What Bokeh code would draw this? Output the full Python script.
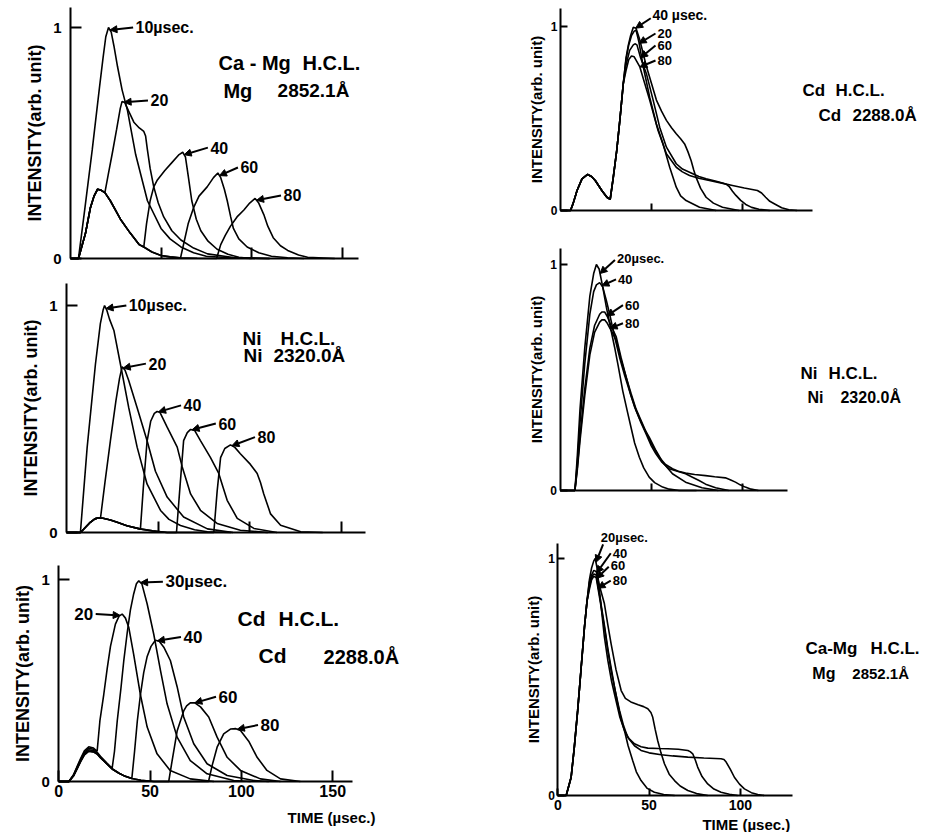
import numpy as np
from bokeh.plotting import figure
from bokeh.models import Range1d, FixedTicker, Label, Arrow, NormalHead, LinearAxis
from bokeh.embed import file_html
from bokeh.resources import INLINE

FONT = "Liberation Sans"

# ---------------- Panel L1 : Ca-Mg H.C.L., Mg 2852.1 A (left, top) ----------------
L1_10_T = [0, 4.4, 8, 12, 16, 18, 19.5, 21, 22.5, 24, 26, 28.5, 31.5, 36, 42.5, 50, 55, 61, 68, 75, 90, 110]
L1_10_I = [0, 0, 0.22, 0.47, 0.74, 0.87, 0.96, 1.0, 0.98, 0.92, 0.83, 0.73, 0.64, 0.45, 0.25, 0.13, 0.085, 0.05, 0.025, 0.01, 0.002, 0]
L1_20_T = [0, 4.4, 8.3, 11, 13, 15, 17, 19, 21, 23.2, 25.5, 27.5, 28.5, 30, 32, 35, 38, 40.5, 41.5, 42.5, 44, 46, 48.5, 51.5, 56, 61, 68, 75.7, 90, 110]
L1_20_I = [0, 0, 0.11, 0.22, 0.27, 0.30, 0.295, 0.285, 0.37, 0.46, 0.56, 0.65, 0.68, 0.675, 0.64, 0.59, 0.565, 0.55, 0.53, 0.47, 0.39, 0.31, 0.24, 0.18, 0.12, 0.08, 0.045, 0.02, 0.004, 0]
L1_40_T = [0, 4.4, 8.3, 11, 13, 15, 17, 19, 22, 27.6, 33, 38, 40.5, 42, 44, 46, 48, 52, 56, 60, 62, 63.5, 65, 67, 69.5, 72, 76, 81, 87, 93, 100]
L1_40_I = [0, 0, 0.11, 0.22, 0.27, 0.30, 0.295, 0.285, 0.25, 0.17, 0.11, 0.06, 0.05, 0.15, 0.25, 0.31, 0.34, 0.38, 0.415, 0.45, 0.46, 0.44, 0.36, 0.25, 0.17, 0.12, 0.075, 0.04, 0.018, 0.005, 0]
L1_60_T = [0, 4.4, 8.3, 11, 13, 15, 17, 19, 22, 27.6, 33, 38, 40.5, 45, 50, 55, 60.8, 63, 65, 68, 71, 75.5, 79, 81.4, 83, 85, 86.6, 88.5, 90, 93, 97.6, 104, 111, 120, 129]
L1_60_I = [0, 0, 0.11, 0.22, 0.27, 0.30, 0.295, 0.285, 0.25, 0.17, 0.11, 0.06, 0.05, 0.028, 0.013, 0.007, 0.003, 0.08, 0.15, 0.22, 0.27, 0.31, 0.35, 0.37, 0.35, 0.30, 0.25, 0.18, 0.13, 0.085, 0.05, 0.025, 0.01, 0.003, 0]
L1_80_T = [0, 4.4, 8.3, 11, 13, 15, 17, 19, 22, 27.6, 33, 38, 40.5, 45, 50, 55, 60, 70, 80.7, 83, 85.5, 88.4, 92, 95.8, 99, 102, 104, 106.8, 109, 112, 116, 120, 126, 131, 146]
L1_80_I = [0, 0, 0.11, 0.22, 0.27, 0.30, 0.295, 0.285, 0.25, 0.17, 0.11, 0.06, 0.05, 0.028, 0.013, 0.007, 0.003, 0.001, 0, 0.06, 0.10, 0.14, 0.18, 0.21, 0.24, 0.26, 0.24, 0.19, 0.14, 0.09, 0.055, 0.035, 0.015, 0.005, 0]

# ---------------- Panel L2 : Ni H.C.L., Ni 2320.0 A (left, middle) ----------------
L2_10_T = [0, 7.6, 11.3, 15.8, 18.5, 20, 20.8, 22, 23.5, 25.9, 29.5, 34, 38.6, 44, 51.4, 56, 62.3, 70, 77, 90]
L2_10_I = [0, 0, 0.376, 0.74, 0.92, 0.98, 1.0, 0.98, 0.94, 0.89, 0.74, 0.55, 0.376, 0.214, 0.097, 0.058, 0.031, 0.012, 0.003, 0]
L2_20_T = [0, 7.6, 10, 13, 15.5, 17.7, 18.6, 21, 24, 27, 29, 30.4, 32, 34, 38.6, 44, 48.6, 55, 64, 77, 91]
L2_20_I = [0, 0, 0.02, 0.045, 0.06, 0.065, 0.065, 0.22, 0.405, 0.58, 0.68, 0.73, 0.715, 0.67, 0.55, 0.405, 0.27, 0.156, 0.068, 0.016, 0]
L2_40_T = [0, 7.6, 10, 13, 15.5, 17.7, 20, 24, 27.7, 33, 40, 40.4, 42, 44, 46, 48, 49.5, 51, 55, 60.5, 63.2, 65.5, 67.8, 73.2, 82.3, 95, 110]
L2_40_I = [0, 0, 0.02, 0.045, 0.06, 0.065, 0.063, 0.055, 0.045, 0.03, 0.016, 0.016, 0.2, 0.4, 0.49, 0.525, 0.533, 0.53, 0.464, 0.376, 0.29, 0.23, 0.17, 0.098, 0.04, 0.01, 0]
L2_60_T = [0, 7.6, 10, 13, 15.5, 17.7, 20, 24, 27.7, 33, 40, 47, 55, 60.1, 62, 64, 66, 67.8, 70, 73.2, 78.7, 83.2, 85.5, 87.8, 93.3, 102.4, 115]
L2_60_I = [0, 0, 0.02, 0.045, 0.06, 0.065, 0.063, 0.055, 0.045, 0.03, 0.016, 0.007, 0, 0, 0.2, 0.405, 0.44, 0.454, 0.45, 0.405, 0.33, 0.26, 0.2, 0.142, 0.062, 0.018, 0]
L2_80_T = [0, 7.6, 10, 13, 15.5, 17.7, 20, 24, 27.7, 33, 40, 47, 55, 80.5, 82.3, 84.2, 86.5, 89.6, 92, 95, 100.5, 104.2, 106, 107.8, 111.5, 117, 128, 140]
L2_80_I = [0, 0, 0.02, 0.045, 0.06, 0.065, 0.063, 0.055, 0.045, 0.03, 0.016, 0.007, 0, 0, 0.18, 0.33, 0.37, 0.386, 0.375, 0.347, 0.30, 0.26, 0.22, 0.17, 0.082, 0.032, 0.003, 0]

# ---------------- Panel L3 : Cd H.C.L., Cd 2288.0 A (left, bottom) ----------------
L3_20_T = [0, 5.5, 8, 10, 12, 14, 16.4, 19, 21, 22.5, 24.6, 26.5, 28.3, 31, 33, 34.7, 36.5, 38.3, 41, 44.7, 48.4, 53.8, 61, 72, 85]
L3_20_I = [0, 0, 0.032, 0.074, 0.115, 0.152, 0.172, 0.166, 0.15, 0.3, 0.43, 0.56, 0.67, 0.78, 0.82, 0.83, 0.81, 0.765, 0.63, 0.43, 0.27, 0.137, 0.055, 0.013, 0]
L3_30_T = [0, 5.5, 8, 10, 12, 14, 16.4, 19, 21, 22.8, 26.5, 29.2, 30.5, 32, 34, 35.6, 37.5, 39.2, 41, 42.5, 43.8, 45.5, 48.4, 52, 55.7, 59.3, 64.8, 72, 81.2, 95.8, 105]
L3_30_I = [0, 0, 0.03, 0.07, 0.11, 0.145, 0.165, 0.16, 0.145, 0.125, 0.09, 0.065, 0.15, 0.30, 0.46, 0.60, 0.74, 0.85, 0.93, 0.98, 0.995, 0.98, 0.88, 0.73, 0.55, 0.385, 0.22, 0.104, 0.038, 0.005, 0]
L3_40_T = [0, 5.5, 8, 10, 12, 14, 16.4, 19, 21, 22.8, 26.5, 29.2, 33, 35.6, 40, 41.5, 43, 44.7, 46.5, 48.4, 50.5, 52.9, 55, 57.5, 61.1, 64.8, 68.4, 73.9, 81.2, 92.2, 106.8, 115]
L3_40_I = [0, 0, 0.028, 0.066, 0.104, 0.138, 0.157, 0.153, 0.14, 0.12, 0.087, 0.063, 0.041, 0.029, 0.015, 0.15, 0.3, 0.43, 0.54, 0.62, 0.67, 0.70, 0.695, 0.666, 0.6, 0.47, 0.32, 0.187, 0.088, 0.03, 0.005, 0]
L3_60_T = [0, 5.5, 8, 10, 12, 14, 16.4, 19, 21, 22.8, 26.5, 29.2, 33, 35.6, 40, 45, 52, 60.2, 62, 64.8, 68.4, 70, 72, 74.5, 77.6, 82.1, 86.7, 92.2, 99.5, 110.4, 121.4]
L3_60_I = [0, 0, 0.027, 0.063, 0.1, 0.132, 0.15, 0.147, 0.136, 0.118, 0.086, 0.062, 0.041, 0.029, 0.015, 0.006, 0, 0, 0.1, 0.25, 0.35, 0.375, 0.39, 0.39, 0.37, 0.32, 0.22, 0.12, 0.055, 0.013, 0]
L3_80_T = [0, 5.5, 8, 10, 12, 14, 16.4, 19, 21, 22.8, 26.5, 29.2, 33, 35.6, 40, 45, 52, 82, 84, 86.7, 90.3, 94, 97, 99.5, 104, 108.6, 114, 121.4, 132.3]
L3_80_I = [0, 0, 0.027, 0.063, 0.1, 0.132, 0.15, 0.147, 0.136, 0.118, 0.086, 0.062, 0.041, 0.029, 0.015, 0.006, 0, 0, 0.08, 0.17, 0.236, 0.26, 0.262, 0.253, 0.2, 0.12, 0.055, 0.013, 0]

# ---------------- Panel R1 : Cd H.C.L., Cd 2288.0 A (right, top) ----------------
R1_20_T = [0, 5.5, 7, 9.1, 11.8, 14.9, 17, 19.1, 22.7, 25.5, 27.3, 29, 30.9, 32.7, 34.5, 36, 37.5, 39, 40.5, 41.5, 43, 45.5, 49, 52.7, 56.4, 60, 63.6, 66, 69, 76.4, 85.5]
R1_20_I = [0, 0, 0.04, 0.109, 0.172, 0.196, 0.185, 0.163, 0.109, 0.072, 0.06, 0.18, 0.326, 0.5, 0.69, 0.82, 0.9, 0.95, 0.975, 0.98, 0.92, 0.78, 0.616, 0.47, 0.36, 0.235, 0.127, 0.08, 0.054, 0.018, 0]
R1_40_T = [0, 5.5, 7, 9.1, 11.8, 14.9, 17, 19.1, 22.7, 25.5, 27.3, 29, 30.9, 32.7, 34.5, 36, 37.3, 38.5, 40, 41.5, 43.5, 45.5, 47.3, 50, 52.7, 55.5, 58.2, 61, 63.6, 66, 68.2, 70, 71.8, 73.2, 74.5, 77, 80, 84, 89, 98]
R1_40_I = [0, 0, 0.04, 0.109, 0.172, 0.196, 0.185, 0.163, 0.109, 0.072, 0.06, 0.18, 0.326, 0.5, 0.69, 0.83, 0.9, 0.95, 0.996, 0.99, 0.93, 0.85, 0.78, 0.69, 0.6, 0.54, 0.49, 0.45, 0.417, 0.39, 0.362, 0.32, 0.27, 0.22, 0.18, 0.12, 0.072, 0.04, 0.018, 0]
R1_60_T = [0, 5.5, 7, 9.1, 11.8, 14.9, 17, 19.1, 22.7, 25.5, 27.3, 29, 30.9, 32.7, 34.5, 36, 38, 40, 40.9, 42, 44, 47.3, 50.9, 54.5, 58.2, 63.6, 67, 70.9, 76, 80, 85, 89, 91, 92.7, 94.5, 96.4, 99, 101.8, 105, 109, 115]
R1_60_I = [0, 0, 0.04, 0.109, 0.172, 0.196, 0.185, 0.163, 0.109, 0.072, 0.06, 0.18, 0.326, 0.5, 0.69, 0.79, 0.87, 0.9, 0.906, 0.9, 0.83, 0.74, 0.6, 0.453, 0.344, 0.254, 0.225, 0.208, 0.185, 0.172, 0.16, 0.149, 0.143, 0.13, 0.105, 0.082, 0.055, 0.033, 0.017, 0.007, 0]
R1_80_T = [0, 5.5, 7, 9.1, 11.8, 14.9, 17, 19.1, 22.7, 25.5, 27.3, 29, 30.9, 32.7, 34.5, 36, 37.5, 39, 40.5, 43.6, 46, 49, 53.6, 58.2, 63.6, 67, 70.9, 76, 81.8, 88, 94.5, 101, 108.2, 110.5, 112.7, 115, 118.2, 121.5, 125.5, 130]
R1_80_I = [0, 0, 0.04, 0.109, 0.172, 0.196, 0.185, 0.163, 0.109, 0.072, 0.06, 0.18, 0.326, 0.5, 0.69, 0.76, 0.82, 0.84, 0.835, 0.78, 0.7, 0.6, 0.435, 0.308, 0.235, 0.21, 0.19, 0.175, 0.163, 0.15, 0.136, 0.122, 0.109, 0.095, 0.072, 0.05, 0.033, 0.015, 0.004, 0]

# ---------------- Panel R2 : Ni H.C.L., Ni 2320.0 A (right, middle) ----------------
R2_20_T = [0, 8.2, 9.5, 11, 13.6, 16.4, 18.5, 20, 21.5, 23.5, 25.5, 27.5, 30, 32, 34.5, 37, 39, 41, 43.6, 46, 49, 52, 56.4, 60, 65.5, 75]
R2_20_I = [0, 0, 0.15, 0.36, 0.63, 0.86, 0.96, 1.0, 0.98, 0.9, 0.81, 0.73, 0.634, 0.55, 0.44, 0.35, 0.28, 0.21, 0.147, 0.1, 0.059, 0.035, 0.015, 0.006, 0, 0]
R2_40_T = [0, 8.2, 9.5, 11, 13.6, 16.4, 18.5, 20, 21.8, 23.5, 25.5, 27.3, 30, 32.7, 35.5, 38.2, 41, 43.6, 46.5, 49, 52.7, 56.4, 61.8, 69, 78, 87]
R2_40_I = [0, 0, 0.12, 0.3, 0.56, 0.78, 0.88, 0.91, 0.92, 0.9, 0.84, 0.78, 0.68, 0.59, 0.51, 0.44, 0.37, 0.32, 0.27, 0.236, 0.177, 0.125, 0.074, 0.037, 0.012, 0]
R2_60_T = [0, 8.2, 9.5, 11, 13.6, 16.4, 19, 21.8, 23, 24.5, 26, 28, 30.9, 33.5, 36.4, 39, 41.8, 44.5, 47.3, 50, 52.7, 56, 60, 64.5, 69, 72.5, 76.4, 80, 85.5, 92.7]
R2_60_I = [0, 0, 0.1, 0.24, 0.45, 0.63, 0.73, 0.78, 0.79, 0.79, 0.77, 0.73, 0.68, 0.59, 0.5, 0.42, 0.354, 0.3, 0.25, 0.2, 0.162, 0.125, 0.096, 0.085, 0.074, 0.06, 0.044, 0.028, 0.012, 0]
R2_80_T = [0, 8.2, 9.5, 11, 13.6, 16.4, 19, 21.8, 23, 24.5, 26, 28, 30.9, 33.5, 36.4, 39, 41.8, 44.5, 47.3, 50, 54.5, 58, 61.8, 65, 69, 74, 80, 85, 90.9, 93.5, 96.4, 99, 101.8, 105, 109]
R2_80_I = [0, 0, 0.09, 0.22, 0.42, 0.6, 0.7, 0.745, 0.755, 0.755, 0.74, 0.71, 0.664, 0.58, 0.5, 0.43, 0.36, 0.31, 0.258, 0.21, 0.147, 0.115, 0.096, 0.085, 0.077, 0.071, 0.066, 0.061, 0.056, 0.048, 0.037, 0.025, 0.015, 0.006, 0]

# ---------------- Panel R3 : Ca-Mg H.C.L., Mg 2852.1 A (right, bottom) ----------------
R3_20_T = [0, 4.6, 7.3, 9, 10.9, 12.8, 14.6, 16, 17.3, 18.5, 19.7, 20.5, 21.5, 23.7, 25.5, 27.4, 29.5, 31.9, 34, 36.5, 38.5, 41, 43, 45.6, 49, 52.9, 58, 64]
R3_20_I = [0, 0, 0.077, 0.2, 0.36, 0.54, 0.71, 0.82, 0.91, 0.96, 0.99, 1.0, 0.96, 0.8, 0.67, 0.57, 0.48, 0.40, 0.33, 0.274, 0.21, 0.148, 0.1, 0.063, 0.03, 0.014, 0.004, 0]
R3_40_T = [0, 4.6, 7.3, 9, 10.9, 12.8, 14.6, 16, 17.3, 18.5, 19.7, 21, 23, 25.5, 27.4, 29.2, 31.9, 34.7, 37, 40, 44, 47, 49.3, 51, 52, 53.3, 54.7, 56.5, 58.4, 61, 63.9, 67, 71.2, 76, 82.1]
R3_40_I = [0, 0, 0.077, 0.2, 0.36, 0.54, 0.71, 0.82, 0.9, 0.93, 0.95, 0.945, 0.88, 0.81, 0.72, 0.64, 0.53, 0.443, 0.41, 0.395, 0.383, 0.375, 0.366, 0.35, 0.33, 0.28, 0.232, 0.18, 0.134, 0.09, 0.063, 0.04, 0.021, 0.008, 0]
R3_60_T = [0, 4.6, 7.3, 9, 10.9, 12.8, 14.6, 16, 17.3, 18.5, 19.7, 21, 23, 25.5, 27.4, 29.2, 31, 32.8, 34.7, 36.5, 39, 42, 45.6, 49.3, 55, 60.2, 66, 71.2, 72.5, 73.9, 75.3, 76.6, 79, 82.1, 85.5, 89.4, 94, 98.5]
R3_60_I = [0, 0, 0.077, 0.2, 0.36, 0.54, 0.71, 0.82, 0.88, 0.92, 0.935, 0.93, 0.84, 0.72, 0.62, 0.54, 0.46, 0.387, 0.32, 0.274, 0.24, 0.218, 0.206, 0.2, 0.198, 0.197, 0.195, 0.19, 0.185, 0.176, 0.15, 0.12, 0.08, 0.049, 0.027, 0.014, 0.005, 0]
R3_80_T = [0, 4.6, 7.3, 9, 10.9, 12.8, 14.6, 16, 17.3, 18.5, 19.7, 21, 23, 25.5, 27.4, 29.2, 31.5, 33.8, 36, 38.3, 42, 45.6, 50, 56.6, 63, 71.2, 80, 89.4, 91, 92.2, 94.5, 96.7, 99.5, 102.2, 106, 109.5, 113]
R3_80_I = [0, 0, 0.077, 0.2, 0.36, 0.54, 0.71, 0.82, 0.87, 0.91, 0.925, 0.92, 0.83, 0.71, 0.61, 0.527, 0.44, 0.359, 0.295, 0.246, 0.21, 0.19, 0.18, 0.172, 0.167, 0.162, 0.158, 0.155, 0.152, 0.141, 0.11, 0.077, 0.048, 0.028, 0.012, 0.004, 0]

# tick values / labels
X_TICKS_LEFT = [50, 100, 150]
X_TICKS_LEFT_BOTTOM = [0, 50, 100, 150]
X_TICKS_RIGHT = [50, 100]
X_TICKS_RIGHT_BOTTOM = [0, 50, 100]
Y_TICKS = [0, 1]
Y_LABEL = "INTENSITY(arb. unit)"
X_LABEL = "TIME (µsec.)"

# ---------------- layout (canvas pixels; canvas sits at the page's top-left) ----------------
W, H = 922, 832
# origin x (t=0), px per usec, origin y (I=0), px per unit, x-axis end (usec), y-axis top (unit)
PLACE = {
    "L1": (70.0, 1.81, 258.0, 231.0, 159.1, 1.087),
    "L2": (66.0, 1.83, 532.0, 227.0, 163.4, 1.097),
    "L3": (58.3, 1.826, 781.0, 201.7, 160.8, 1.071),
    "R1": (560.0, 1.82, 210.0, 184.0, 138.5, 1.10),
    "R2": (559.5, 1.82, 490.0, 226.0, 125.0, 1.071),
    "R3": (557.3, 1.826, 795.0, 237.0, 128.5, 1.063),
}

p = figure(width=W, height=H, x_range=Range1d(0, W), y_range=Range1d(0, H),
           x_axis_type=None, y_axis_type=None, min_border=0,
           toolbar_location=None, output_backend="svg", title=None)
p.grid.visible = False
p.outline_line_color = None
p.background_fill_color = "white"
p.border_fill_color = "white"

xr, yr = {}, {}
for k, (x0, sx, y0, sy, _, _) in PLACE.items():
    xr[k] = Range1d((0 - x0) / sx, (W - x0) / sx)
    yr[k] = Range1d((y0 - H) / sy, (y0 - 0) / sy)
p.extra_x_ranges = xr
p.extra_y_ranges = yr


def add_text(key, text, x, y, fs, align="left"):
    p.add_layout(Label(x=x, y=y, text=text, text_align=align, text_baseline="middle",
                       x_range_name=key, y_range_name=key,
                       text_font=FONT, text_font_style="bold", text_font_size=fs,
                       text_color="black"))


def add_panel(key, series, notes, titles, big, xticks, xlabels, time_pos=None):
    _, _, _, _, xend, ytop = PLACE[key]
    xa = LinearAxis(x_range_name=key, y_range_name=key, fixed_location=0, bounds=(0, xend),
                    ticker=FixedTicker(ticks=xticks))
    ya = LinearAxis(x_range_name=key, y_range_name=key, fixed_location=0, bounds=(0, ytop),
                    ticker=FixedTicker(ticks=Y_TICKS), axis_label=Y_LABEL)
    for ax in (xa, ya):
        ax.axis_line_color = "black"
        ax.axis_line_width = 2
        ax.major_tick_line_color = "black"
        ax.major_tick_line_width = 2
        ax.major_tick_in = 11 if big else 7
        ax.major_tick_out = 0
        ax.minor_tick_line_color = None
        ax.major_label_text_font = FONT
        ax.major_label_text_font_style = "bold"
        ax.major_label_text_color = "black"
    ya.major_label_text_font_size = "15px" if big else "12px"
    ya.major_label_standoff = 9 if big else 3
    ya.axis_label_text_font = FONT
    ya.axis_label_text_font_style = "bold"
    ya.axis_label_text_font_size = "18px" if big else "15px"
    ya.axis_label_standoff = 5 if big else 3
    ya.axis_label_text_color = "black"
    if xlabels:
        xa.major_label_text_font_size = "16px" if big else "14px"
        xa.major_label_standoff = 3 if big else 4
    else:
        xa.major_label_text_font_size = "10px"
        xa.major_label_text_color = None
    p.add_layout(xa, "below")
    p.add_layout(ya, "left")

    for name, (t, i) in series.items():
        p.line(t, i, line_color="black", line_width=1.6, x_range_name=key, y_range_name=key)

    for (text, name, tx, ty, ax_, ay_, tip, align, fs) in notes:
        t, i = series[name]
        ey = float(np.interp(tip, t, i))
        p.add_layout(Arrow(x_start=ax_, y_start=ay_, x_end=tip, y_end=ey,
                           x_range_name=key, y_range_name=key,
                           line_color="black", line_width=2,
                           end=NormalHead(size=7, line_color="black", fill_color="black", line_width=1)))
        add_text(key, text, tx, ty, fs, align)

    for (text, tx, ty, fs) in titles:
        add_text(key, text, tx, ty, fs)

    if time_pos is not None:
        tx, ty, fs = time_pos
        add_text(key, X_LABEL, tx, ty, fs, "right")


L1 = {"10": (L1_10_T, L1_10_I), "20": (L1_20_T, L1_20_I), "40": (L1_40_T, L1_40_I),
      "60": (L1_60_T, L1_60_I), "80": (L1_80_T, L1_80_I)}
L2 = {"10": (L2_10_T, L2_10_I), "20": (L2_20_T, L2_20_I), "40": (L2_40_T, L2_40_I),
      "60": (L2_60_T, L2_60_I), "80": (L2_80_T, L2_80_I)}
L3 = {"20": (L3_20_T, L3_20_I), "30": (L3_30_T, L3_30_I), "40": (L3_40_T, L3_40_I),
      "60": (L3_60_T, L3_60_I), "80": (L3_80_T, L3_80_I)}
R1 = {"20": (R1_20_T, R1_20_I), "40": (R1_40_T, R1_40_I),
      "60": (R1_60_T, R1_60_I), "80": (R1_80_T, R1_80_I)}
R2 = {"20": (R2_20_T, R2_20_I), "40": (R2_40_T, R2_40_I),
      "60": (R2_60_T, R2_60_I), "80": (R2_80_T, R2_80_I)}
R3 = {"20": (R3_20_T, R3_20_I), "40": (R3_40_T, R3_40_I),
      "60": (R3_60_T, R3_60_I), "80": (R3_80_T, R3_80_I)}

# notes: (text, series, label_x, label_y, arrow_start_x, arrow_start_y, arrow_tip_t, align, font)
N_L1 = [("10µsec.", "10", 35.9, 1.0, 34.6, 1.0, 21.8, "left", "16px"),
        ("20", "20", 44.2, 0.684, 42.8, 0.684, 29.6, "left", "16px"),
        ("40", "40", 77.3, 0.48, 75.9, 0.48, 62.8, "left", "16px"),
        ("60", "60", 93.9, 0.394, 92.5, 0.394, 82.3, "left", "16px"),
        ("80", "80", 117.7, 0.273, 116.3, 0.273, 102.8, "left", "16px")]
N_L2 = [("10µsec.", "10", 34.0, 1.0, 32.7, 1.0, 21.6, "left", "16px"),
        ("20", "20", 44.8, 0.744, 43.4, 0.744, 31.0, "left", "16px"),
        ("40", "40", 64.0, 0.56, 62.6, 0.56, 50.3, "left", "16px"),
        ("60", "60", 83.0, 0.48, 81.6, 0.48, 68.6, "left", "16px"),
        ("80", "80", 104.4, 0.42, 103.0, 0.42, 90.4, "left", "16px")]
N_L3 = [("30µsec.", "30", 58.4, 0.99, 57.0, 0.99, 44.8, "left", "17px"),
        ("20", "20", 18.8, 0.83, 20.2, 0.83, 33.6, "right", "17px"),
        ("40", "40", 68.3, 0.716, 66.9, 0.716, 54.0, "left", "17px"),
        ("60", "60", 87.5, 0.42, 86.1, 0.42, 74.5, "left", "17px"),
        ("80", "80", 110.5, 0.28, 109.1, 0.28, 97.8, "left", "17px")]
N_R1 = [("40 µsec.", "40", 50.5, 1.06, 49.6, 1.045, 41.3, "left", "14px"),
        ("20", "20", 53.3, 0.962, 52.2, 0.962, 43.2, "left", "13px"),
        ("60", "60", 53.3, 0.897, 52.2, 0.897, 44.0, "left", "13px"),
        ("80", "80", 53.3, 0.815, 52.2, 0.815, 43.6, "left", "13px")]
N_R2 = [("20µsec.", "20", 31.3, 1.027, 30.2, 1.02, 22.0, "left", "13px"),
        ("40", "40", 31.9, 0.934, 30.8, 0.934, 23.0, "left", "13px"),
        ("60", "60", 35.7, 0.82, 34.6, 0.82, 25.8, "left", "13px"),
        ("80", "80", 35.7, 0.74, 34.6, 0.74, 27.5, "left", "13px")]
N_R3 = [("20µsec.", "20", 23.5, 1.089, 24.8, 1.06, 20.9, "left", "13px"),
        ("40", "40", 30.1, 1.022, 29.0, 1.022, 21.2, "left", "13px"),
        ("60", "60", 29.0, 0.97, 27.9, 0.965, 21.3, "left", "13px"),
        ("80", "80", 30.1, 0.907, 29.0, 0.907, 22.0, "left", "13px")]

# panel captions: (text, x, y, font)
T_L1 = [("Ca - Mg", 81.8, 0.848, "20px"), ("H.C.L.", 128.2, 0.848, "20px"),
        ("Mg", 84.5, 0.727, "20px"), ("2852.1Å", 114.4, 0.727, "19px")]
T_L2 = [("Ni", 96.2, 0.855, "19px"), ("H.C.L.", 116.9, 0.855, "19px"),
        ("Ni", 96.7, 0.78, "19px"), ("2320.0Å", 113.1, 0.78, "19px")]
T_L3 = [("Cd", 97.9, 0.81, "21px"), ("H.C.L.", 120.3, 0.81, "21px"),
        ("Cd", 109.4, 0.625, "21px"), ("2288.0Å", 145.0, 0.615, "20px")]
T_R1 = [("Cd", 133.0, 0.652, "17px"), ("H.C.L.", 151.1, 0.652, "17px"),
        ("Cd", 141.8, 0.516, "17px"), ("2288.0Å", 160.4, 0.516, "17px")]
T_R2 = [("Ni", 132.1, 0.518, "17px"), ("H.C.L.", 147.5, 0.518, "17px"),
        ("Ni", 136.0, 0.412, "16px"), ("2320.0Å", 154.1, 0.412, "16px")]
T_R3 = [("Ca-Mg", 135.6, 0.62, "17px"), ("H.C.L.", 171.2, 0.62, "17px"),
        ("Mg", 139.4, 0.515, "16px"), ("2852.1Å", 161.3, 0.515, "15px")]

add_panel("L1", L1, N_L1, T_L1, True, X_TICKS_LEFT, False)
add_panel("L2", L2, N_L2, T_L2, True, X_TICKS_LEFT, False)
add_panel("L3", L3, N_L3, T_L3, True, X_TICKS_LEFT_BOTTOM, True, time_pos=(173.4, -0.1785, "15px"))
add_panel("R1", R1, N_R1, T_R1, False, X_TICKS_RIGHT, False)
add_panel("R2", R2, N_R2, T_R2, False, X_TICKS_RIGHT, False)
add_panel("R3", R3, N_R3, T_R3, False, X_TICKS_RIGHT_BOTTOM, True, time_pos=(127.3, -0.124, "15px"))

open("out.html", "w").write(file_html(p, INLINE))
